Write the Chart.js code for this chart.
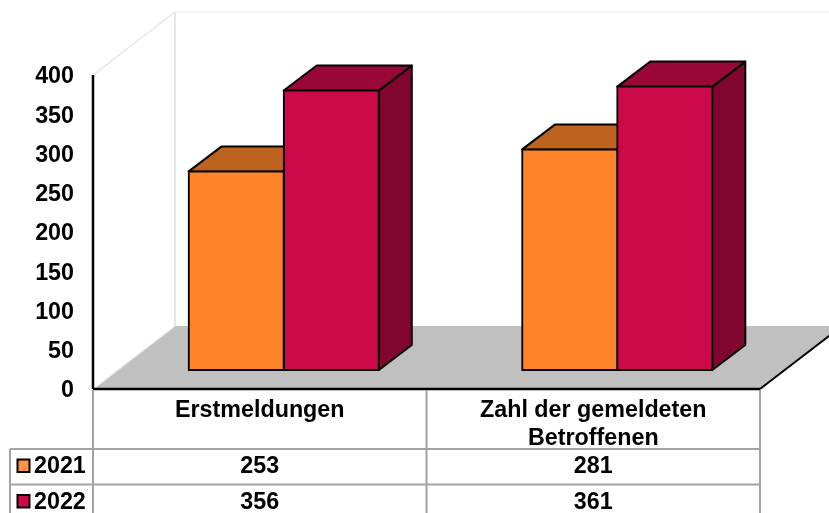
<!DOCTYPE html>
<html><head><meta charset="utf-8">
<style>html,body{margin:0;padding:0;background:#fff}canvas{display:block}</style>
<script src="https://cdn.jsdelivr.net/npm/chart.js@4/dist/chart.umd.min.js"></script>
</head><body><canvas id="c" width="829" height="513"></canvas>
<script>
const categories = ["Erstmeldungen", ["Zahl der gemeldeten", "Betroffenen"]];
const seriesNames = ["2021", "2022"];
const values2021 = [253, 281];
const values2022 = [356, 361];
const yTicks = [0, 400, 50];

const FONT_SIZE = 23.3;
const FAMILY = '"Liberation Sans", Arial, sans-serif';
const FONT = 'bold ' + FONT_SIZE + 'px ' + FAMILY;
const frontX = 24, frontY = 19;      // bars sit this far behind the front edge of the floor
const wallDX = 82, wallDY = 63;      // floor depth
const barDX = 33, barDY = 25;        // bar depth
const palette = [
  {front:'#FF8329', top:'#BD621F', side:'#A0521A', key:'#FF9340'},
  {front:'#CC0A4A', top:'#990838', side:'#80062F', key:'#CC0A4A'}
];
function poly(ctx, pts, fill, stroke, lw){
  ctx.beginPath(); pts.forEach((p,i)=> i?ctx.lineTo(p[0],p[1]):ctx.moveTo(p[0],p[1])); ctx.closePath();
  if(fill){ctx.fillStyle=fill;ctx.fill();}
  if(stroke){ctx.strokeStyle=stroke;ctx.lineWidth=lw;ctx.lineJoin='round';ctx.stroke();}
}
function seg(ctx,x1,y1,x2,y2,c,w){ctx.beginPath();ctx.moveTo(x1,y1);ctx.lineTo(x2,y2);ctx.strokeStyle=c;ctx.lineWidth=w;ctx.stroke();}

const scene = {
  id:'scene',
  beforeDatasetsDraw(chart){
    const ctx=chart.ctx, a=chart.chartArea, L=a.left-frontX, R=a.right-frontX, B=a.bottom, T=a.top;
    ctx.save();
    // floor
    poly(ctx,[[L,B],[R,B],[R+wallDX,B-wallDY],[L+wallDX,B-wallDY]],'#C0C0C0');
    // walls
    const wc='#E6E6E6';
    seg(ctx,L,T,L+wallDX,T-wallDY,wc,1.5);
    seg(ctx,L+wallDX,T-wallDY,L+wallDX,B-wallDY,wc,2);
    seg(ctx,L+wallDX,T-wallDY,chart.width,T-wallDY,'#F2F2F2',1.5);
    seg(ctx,L,B,L+wallDX,B-wallDY,'#EDEDED',1.5);
    // axis lines
    seg(ctx,L,T,L,B,'#000',2.5);
    seg(ctx,L,B,R,B,'#000',2.5);
    seg(ctx,R,B,R+wallDX,B-wallDY,'#000',2);
    // bar tops and sides
    [0,1].forEach(i=>{
      chart.getDatasetMeta(i).data.forEach(b=>{
        const l=b.x-b.width/2,r=b.x+b.width/2,t=b.y,bt=b.base;
        poly(ctx,[[r,t],[r+barDX,t-barDY],[r+barDX,bt-barDY],[r,bt]],palette[i].side,'#000',2);
        poly(ctx,[[l,t],[l+barDX,t-barDY],[r+barDX,t-barDY],[r,t]],palette[i].top,'#000',2);
      });
    });
    ctx.restore();
  },
  afterDraw(chart){
    const ctx=chart.ctx, a=chart.chartArea, L=a.left-frontX, R=a.right-frontX, B=a.bottom;
    const xs=chart.scales.x, rows=[449,484.5], h=chart.height;
    const vals=[values2021,values2022];
    ctx.save();
    const g='#A3A3A3';
    const mid=(L+R)/2;
    seg(ctx,L,B+1,L,h,g,2); seg(ctx,mid,B+1,mid,h,g,2); seg(ctx,R,B+1,R,h,g,2);
    seg(ctx,10,rows[0],10,h,g,2);
    rows.forEach(y=>seg(ctx,10,y,R,y,g,2));
    ctx.font=FONT; ctx.fillStyle='#000'; ctx.textBaseline='middle';
    seriesNames.forEach((n,i)=>{
      const cy=rows[i]+17;
      ctx.fillStyle=palette[i].key; ctx.fillRect(17.5,cy-6.5,12,12.5);
      ctx.strokeStyle='#000'; ctx.lineWidth=2; ctx.strokeRect(17.5,cy-6.5,12,12.5);
      ctx.fillStyle='#000'; ctx.textAlign='left'; ctx.fillText(n,34,cy+1);
      ctx.textAlign='center';
      vals[i].forEach((v,j)=>ctx.fillText(String(v),xs.getPixelForTick(j)-frontX,cy+1));
    });
    ctx.restore();
  }
};

const pxPerUnit=(389-75)/(yTicks[1]-yTicks[0]);
const barShift=frontY/pxPerUnit;
new Chart(document.getElementById('c'),{
  type:'bar',
  data:{labels:categories,datasets:[
    {label:seriesNames[0],data:values2021,backgroundColor:palette[0].front,borderColor:'#000',borderWidth:2,borderSkipped:false,inflateAmount:1,yAxisID:'yBars'},
    {label:seriesNames[1],data:values2022,backgroundColor:palette[1].front,borderColor:'#000',borderWidth:2,borderSkipped:false,inflateAmount:1,yAxisID:'yBars'}
  ]},
  plugins:[scene],
  options:{
    responsive:false,animation:false,
    layout:{padding:{top:75,right:45,left:0,bottom:0}},
    plugins:{legend:{display:false},tooltip:{enabled:false},title:{display:false}},
    datasets:{bar:{barPercentage:1,categoryPercentage:0.57}},
    scales:{
      x:{grid:{display:false},border:{display:false},
         afterFit(s){s.height=124;},
         ticks:{color:'#000',font:{family:FAMILY,size:FONT_SIZE,weight:'bold',lineHeight:1.2},
                labelOffset:-frontX,padding:0,maxRotation:0,autoSkip:false}},
      y:{position:'left',min:yTicks[0],max:yTicks[1],
         grid:{display:false,drawTicks:false},border:{display:false},
         afterFit(s){s.width=117;},
         ticks:{stepSize:yTicks[2],color:'#000',padding:43,labelOffset:2,font:{family:FAMILY,size:FONT_SIZE,weight:'bold'}}},
      yBars:{display:false,min:yTicks[0]-barShift,max:yTicks[1]-barShift}
    }
  }
});
</script></body></html>
